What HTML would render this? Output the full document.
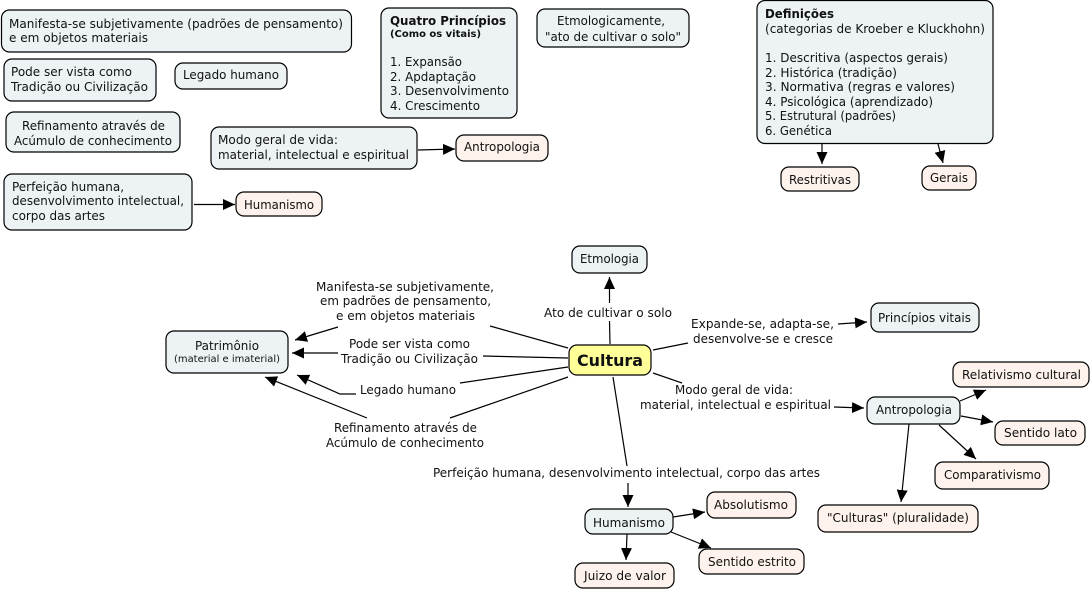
<!DOCTYPE html>
<html><head><meta charset="utf-8"><style>
html,body{margin:0;padding:0;background:#fff}
svg{display:block}
text{font-family:"DejaVu Sans","Liberation Sans",sans-serif;font-size:12px;fill:#111}
.b{font-weight:bold}
rect{stroke:#000;stroke-width:1.2}
.c{fill:#edf3f5}.p{fill:#fdf2ec}
path{fill:none;stroke:#000;stroke-width:1.2}
</style></head><body>
<svg width="1091" height="591" viewBox="0 0 1091 591" xmlns="http://www.w3.org/2000/svg">
<defs><marker id="a" markerUnits="userSpaceOnUse" markerWidth="14" markerHeight="12" refX="12" refY="6" orient="auto"><polygon points="0,0.5 12,6 0,11.5" fill="#000"/></marker></defs>
<!-- top nodes -->
<rect class="c" x="1.5" y="10" width="350" height="42" rx="8"/>
<text x="9" y="28" textLength="334" lengthAdjust="spacingAndGlyphs">Manifesta-se subjetivamente (padrões de pensamento)</text>
<text x="9" y="42" textLength="139" lengthAdjust="spacingAndGlyphs">e em objetos materiais</text>
<rect class="c" x="4" y="59" width="152" height="42" rx="8"/>
<text x="11" y="76" textLength="121" lengthAdjust="spacingAndGlyphs">Pode ser vista como</text>
<text x="11" y="91" textLength="137" lengthAdjust="spacingAndGlyphs">Tradição ou Civilização</text>
<rect class="c" x="175" y="63" width="112" height="26" rx="8"/>
<text x="183" y="79" textLength="96" lengthAdjust="spacingAndGlyphs">Legado humano</text>
<rect class="c" x="6" y="112" width="174" height="40" rx="8"/>
<text x="22" y="130" textLength="143" lengthAdjust="spacingAndGlyphs">Refinamento através de</text>
<text x="14" y="145" textLength="158" lengthAdjust="spacingAndGlyphs">Acúmulo de conhecimento</text>
<rect class="c" x="211" y="127" width="206" height="42" rx="8"/>
<text x="218" y="144" textLength="120" lengthAdjust="spacingAndGlyphs">Modo geral de vida:</text>
<text x="218" y="159" textLength="191" lengthAdjust="spacingAndGlyphs">material, intelectual e espiritual</text>
<rect class="c" x="4" y="174" width="188" height="56" rx="8"/>
<text x="12" y="191" textLength="112" lengthAdjust="spacingAndGlyphs">Perfeição humana,</text>
<text x="12" y="205" textLength="172" lengthAdjust="spacingAndGlyphs">desenvolvimento intelectual,</text>
<text x="12" y="220" textLength="93" lengthAdjust="spacingAndGlyphs">corpo das artes</text>
<rect class="p" x="236" y="192" width="86" height="24" rx="8"/>
<text x="244" y="209" textLength="70" lengthAdjust="spacingAndGlyphs">Humanismo</text>
<path d="M194 204.500H235" marker-end="url(#a)"/>
<rect class="c" x="381" y="8" width="136" height="110" rx="8"/>
<text class="b" x="390" y="25" textLength="116" lengthAdjust="spacingAndGlyphs">Quatro Princípios</text>
<text class="b" x="390" y="37" style="font-size:10px" textLength="91" lengthAdjust="spacingAndGlyphs">(Como os vitais)</text>
<text x="390" y="66" textLength="72" lengthAdjust="spacingAndGlyphs">1. Expansão</text>
<text x="390" y="81" textLength="86" lengthAdjust="spacingAndGlyphs">2. Apdaptação</text>
<text x="390" y="95" textLength="119" lengthAdjust="spacingAndGlyphs">3. Desenvolvimento</text>
<text x="390" y="110" textLength="90" lengthAdjust="spacingAndGlyphs">4. Crescimento</text>
<rect class="c" x="537" y="9" width="152" height="38" rx="8"/>
<text x="557" y="25" textLength="108" lengthAdjust="spacingAndGlyphs">Etmologicamente,</text>
<text x="545" y="41" textLength="136" lengthAdjust="spacingAndGlyphs">"ato de cultivar o solo"</text>
<rect class="p" x="456" y="135" width="92" height="26" rx="8"/>
<text x="464" y="151" textLength="76" lengthAdjust="spacingAndGlyphs">Antropologia</text>
<path d="M418 150L455 149" marker-end="url(#a)"/>
<rect class="c" x="757" y="0.500" width="236" height="143" rx="8"/>
<text class="b" x="765" y="18" textLength="69" lengthAdjust="spacingAndGlyphs">Definições</text>
<text x="765" y="33" textLength="220" lengthAdjust="spacingAndGlyphs">(categorias de Kroeber e Kluckhohn)</text>
<text x="765" y="62" textLength="183" lengthAdjust="spacingAndGlyphs">1. Descritiva (aspectos gerais)</text>
<text x="765" y="77" textLength="132" lengthAdjust="spacingAndGlyphs">2. Histórica (tradição)</text>
<text x="765" y="91" textLength="190" lengthAdjust="spacingAndGlyphs">3. Normativa (regras e valores)</text>
<text x="765" y="106" textLength="168" lengthAdjust="spacingAndGlyphs">4. Psicológica (aprendizado)</text>
<text x="765" y="120" textLength="131" lengthAdjust="spacingAndGlyphs">5. Estrutural (padrões)</text>
<text x="765" y="135" textLength="67" lengthAdjust="spacingAndGlyphs">6. Genética</text>
<rect class="p" x="781" y="167" width="78" height="24" rx="8"/>
<text x="789" y="184" textLength="62" lengthAdjust="spacingAndGlyphs">Restritivas</text>
<rect class="p" x="922" y="166" width="54" height="24" rx="8"/>
<text x="930" y="182" textLength="38" lengthAdjust="spacingAndGlyphs">Gerais</text>
<path d="M822 144L822 164" marker-end="url(#a)"/>
<path d="M938 144L943 163" marker-end="url(#a)"/>
<!-- main map connectors -->
<path d="M610 344L609.500 321M609.500 303L609.500 277" marker-end="url(#a)"/>
<path d="M568 348L490 326"/><path d="M338 327L295 340" marker-end="url(#a)"/>
<path d="M568 358L483 356"/><path d="M338 353L292 353" marker-end="url(#a)"/>
<path d="M568 367L460 383"/><path d="M356 394L340 394L297 375" marker-end="url(#a)"/>
<path d="M568 377L450 418"/><path d="M367 418L265 377" marker-end="url(#a)"/>
<path d="M653 350L688 343"/><path d="M838 324L867 322" marker-end="url(#a)"/>
<path d="M653 373L682 383"/><path d="M834 407L864 408" marker-end="url(#a)"/>
<path d="M613 377L627 466"/><path d="M628 483L628 507" marker-end="url(#a)"/>
<path d="M960 401L986 390" marker-end="url(#a)"/>
<path d="M961 416L993 422" marker-end="url(#a)"/>
<path d="M939 425L976 459" marker-end="url(#a)"/>
<path d="M909 424L901 502" marker-end="url(#a)"/>
<path d="M673 517L705 512" marker-end="url(#a)"/>
<path d="M671 532L711 548" marker-end="url(#a)"/>
<path d="M627 534L626 560" marker-end="url(#a)"/>
<!-- main map nodes -->
<rect class="c" x="572" y="246" width="75" height="27" rx="8"/>
<text x="580" y="263" textLength="59" lengthAdjust="spacingAndGlyphs">Etmologia</text>
<rect x="569" y="345" width="82" height="30" rx="8" style="fill:#ffff99"/>
<text class="b" x="577" y="366" style="font-size:16px" textLength="66" lengthAdjust="spacingAndGlyphs">Cultura</text>
<rect class="c" x="166" y="331" width="122" height="42" rx="8"/>
<text x="195" y="350" textLength="64" lengthAdjust="spacingAndGlyphs">Patrimônio</text>
<text x="174" y="362" style="font-size:10px" textLength="106" lengthAdjust="spacingAndGlyphs">(material e imaterial)</text>
<rect class="c" x="871" y="303" width="108" height="29" rx="8"/>
<text x="878" y="322" textLength="93" lengthAdjust="spacingAndGlyphs">Princípios vitais</text>
<rect class="c" x="867" y="397" width="93" height="27" rx="8"/>
<text x="876" y="414" textLength="76" lengthAdjust="spacingAndGlyphs">Antropologia</text>
<rect class="p" x="953" y="362" width="136" height="25" rx="8"/>
<text x="962" y="379" textLength="119" lengthAdjust="spacingAndGlyphs">Relativismo cultural</text>
<rect class="p" x="995" y="421" width="90" height="24" rx="8"/>
<text x="1004" y="437" textLength="73" lengthAdjust="spacingAndGlyphs">Sentido lato</text>
<rect class="p" x="935" y="462" width="114" height="27" rx="8"/>
<text x="944" y="479" textLength="97" lengthAdjust="spacingAndGlyphs">Comparativismo</text>
<rect class="p" x="818" y="505" width="160" height="27" rx="8"/>
<text x="827" y="522" textLength="142" lengthAdjust="spacingAndGlyphs">"Culturas" (pluralidade)</text>
<rect class="c" x="585" y="509" width="88" height="25" rx="8"/>
<text x="593" y="527" textLength="72" lengthAdjust="spacingAndGlyphs">Humanismo</text>
<rect class="p" x="707" y="492" width="89" height="26" rx="8"/>
<text x="714" y="509" textLength="74" lengthAdjust="spacingAndGlyphs">Absolutismo</text>
<rect class="p" x="699" y="549" width="105" height="25" rx="8"/>
<text x="708" y="566" textLength="88" lengthAdjust="spacingAndGlyphs">Sentido estrito</text>
<rect class="p" x="575" y="563" width="99" height="25" rx="8"/>
<text x="584" y="580" textLength="82" lengthAdjust="spacingAndGlyphs">Juizo de valor</text>
<!-- connector labels -->
<text x="544" y="317" textLength="128" lengthAdjust="spacingAndGlyphs">Ato de cultivar o solo</text>
<text x="316" y="291" textLength="178" lengthAdjust="spacingAndGlyphs">Manifesta-se subjetivamente,</text>
<text x="320" y="305" textLength="171" lengthAdjust="spacingAndGlyphs">em padrões de pensamento,</text>
<text x="336" y="320" textLength="139" lengthAdjust="spacingAndGlyphs">e em objetos materiais</text>
<text x="349" y="348" textLength="121" lengthAdjust="spacingAndGlyphs">Pode ser vista como</text>
<text x="341" y="363" textLength="137" lengthAdjust="spacingAndGlyphs">Tradição ou Civilização</text>
<text x="360" y="394" textLength="96" lengthAdjust="spacingAndGlyphs">Legado humano</text>
<text x="334" y="432" textLength="143" lengthAdjust="spacingAndGlyphs">Refinamento através de</text>
<text x="326" y="447" textLength="158" lengthAdjust="spacingAndGlyphs">Acúmulo de conhecimento</text>
<text x="691" y="328" textLength="143" lengthAdjust="spacingAndGlyphs">Expande-se, adapta-se,</text>
<text x="693" y="343" textLength="140" lengthAdjust="spacingAndGlyphs">desenvolve-se e cresce</text>
<text x="675" y="394" textLength="118" lengthAdjust="spacingAndGlyphs">Modo geral de vida:</text>
<text x="640" y="409" textLength="191" lengthAdjust="spacingAndGlyphs">material, intelectual e espiritual</text>
<text x="433" y="477" textLength="387" lengthAdjust="spacingAndGlyphs">Perfeição humana, desenvolvimento intelectual, corpo das artes</text>
</svg>
</body></html>
